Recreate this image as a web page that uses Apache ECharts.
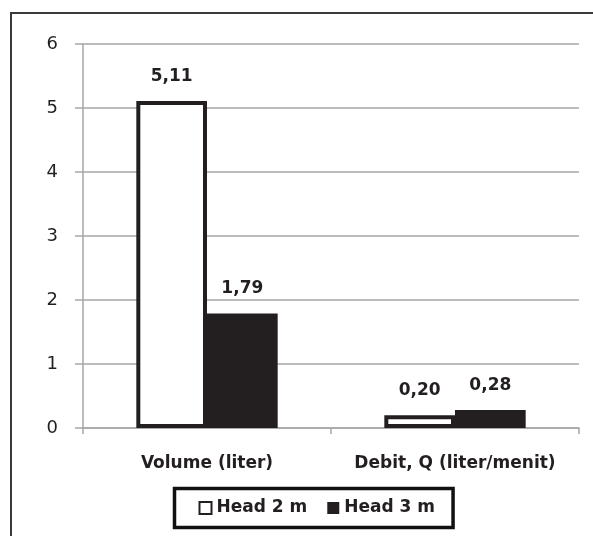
<!DOCTYPE html>
<html>
<head>
<meta charset="utf-8">
<script src="https://cdn.jsdelivr.net/npm/echarts@6/dist/echarts.min.js"></script>
<style>
  html, body { margin: 0; padding: 0; background: #fff; }
  #chart { width: 593px; height: 536px; }
</style>
</head>
<body>
<div id="chart"></div>
<script>
// Measured quantities for the two pump heads
const categories = ['Volume (liter)', 'Debit, Q (liter/menit)'];
const seriesNames = ['Head 2 m', 'Head 3 m'];
const head2 = [5.11, 0.20];
const head3 = [1.79, 0.28];
const yTicks = [0, 1, 2, 3, 4, 5, 6];

const INK = '#231f20';
const GRID = '#a6a6a6';

const fmtComma = v => v.toFixed(2).replace('.', ',');

const valueLabel = {
  show: true,
  position: 'top',
  distance: 16,
  fontFamily: 'DejaVu Sans',
  fontWeight: 'bold',
  fontSize: 17,
  color: INK,
  formatter: p => fmtComma(p.value)
};

const chart = echarts.init(document.getElementById('chart'), null, { renderer: 'canvas' });

chart.setOption({
  animation: false,
  backgroundColor: '#ffffff',
  graphic: [{
    type: 'rect',
    shape: { x: 11, y: 13, width: 640, height: 600 },
    style: { fill: 'none', stroke: '#3a3a3a', lineWidth: 2 },
    silent: true,
    z: 100
  }],
  grid: { left: 83, right: 14, top: 44, bottom: 108, containLabel: false },
  xAxis: {
    type: 'category',
    data: categories,
    axisLine: { lineStyle: { color: GRID, width: 1.5 } },
    axisTick: { show: true, alignWithLabel: false, length: 6, lineStyle: { color: GRID, width: 1.5 } },
    axisLabel: {
      interval: 0,
      margin: 27,
      fontFamily: 'DejaVu Sans',
      fontWeight: 'bold',
      fontSize: 17,
      color: INK
    }
  },
  yAxis: {
    type: 'value',
    min: yTicks[0],
    max: yTicks[yTicks.length - 1],
    interval: 1,
    axisLine: { show: true, lineStyle: { color: GRID, width: 1.5 } },
    axisTick: { show: true, length: 8, lineStyle: { color: GRID, width: 1.5 } },
    splitLine: { show: true, lineStyle: { color: GRID, width: 1.5 } },
    axisLabel: {
      margin: 25,
      fontFamily: 'DejaVu Sans',
      fontSize: 18,
      color: INK,
      formatter: v => (yTicks.includes(v) ? String(v) : '')
    }
  },
  legend: {
    left: 174.5,
    top: 488.5,
    orient: 'horizontal',
    backgroundColor: '#ffffff',
    borderColor: '#111111',
    borderWidth: 3.5,
    borderRadius: 0,
    padding: [11, 18, 11, 24],
    itemGap: 20,
    itemWidth: 12,
    itemHeight: 12,
    textStyle: {
      fontFamily: 'DejaVu Sans',
      fontWeight: 'bold',
      fontSize: 17,
      color: INK
    },
    data: [
      { name: seriesNames[0], icon: 'rect', itemStyle: { color: '#ffffff', borderColor: INK, borderWidth: 2 } },
      { name: seriesNames[1], icon: 'rect', itemStyle: { color: INK, borderWidth: 0 } }
    ]
  },
  series: [
    {
      name: seriesNames[0],
      type: 'bar',
      data: head2,
      barGap: '0%',
      barCategoryGap: '43%',
      itemStyle: { color: '#ffffff', borderColor: INK, borderWidth: 4 },
      label: valueLabel
    },
    {
      name: seriesNames[1],
      type: 'bar',
      data: head3,
      barGap: '0%',
      barCategoryGap: '43%',
      itemStyle: { color: INK },
      label: valueLabel
    }
  ]
});
</script>
</body>
</html>
